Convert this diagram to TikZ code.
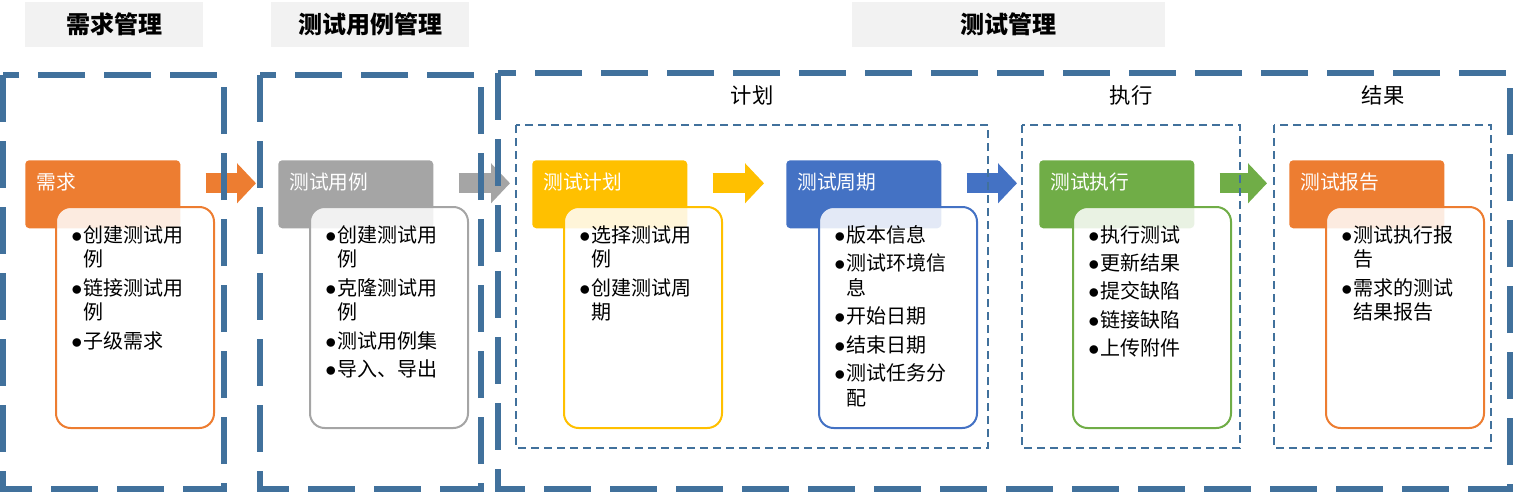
\documentclass[tikz,border=0pt]{standalone}
\usepackage{fontspec}
\setmainfont{Noto Sans CJK SC}
\usetikzlibrary{arrows.meta}
\definecolor{frameblue}{RGB}{65,113,156}
\definecolor{corange}{RGB}{237,125,49}
\definecolor{cgray}{RGB}{165,165,165}
\definecolor{cyellow}{RGB}{255,192,0}
\definecolor{cblue}{RGB}{68,114,196}
\definecolor{cgreen}{RGB}{112,173,71}
\definecolor{titlegray}{RGB}{242,242,242}
\newcommand\bul{\makebox[8.5pt][l]{\hspace*{-0.6pt}\scalebox{1.15}{$\bullet$}}}
\newcommand\ind{\hspace*{8.5pt}}
\begin{document}
\begin{tikzpicture}[x=0.75pt,y=-0.75pt,
  titlebox/.style={fill=titlegray, minimum height=33.75pt, inner sep=0pt, font=\fontsize{18}{20}\selectfont\bfseries},
  sublabel/.style={inner sep=0pt, font=\fontsize{16}{18}\selectfont},
  hdr/.style={fill=#1, rounded corners=3pt, minimum width=116.25pt, minimum height=51pt, inner sep=0pt, anchor=north west},
  bodybox/.style={draw=#1, line width=1.5pt, fill=white, fill opacity=0.85, rounded corners=11pt, minimum width=118.5pt, minimum height=165.75pt, inner sep=0pt, anchor=north west},
  hdrtext/.style={text=white, font=\fontsize{14.8}{17}\selectfont, anchor=base west, inner sep=0pt},
  bodytext/.style={font=\fontsize{15}{18.5}\selectfont, align=left, anchor=north west, inner sep=0pt},
  fat/.style={line width=15pt, draw=#1, -{Triangle[length=14.25pt,width=29.25pt]}},
  bigframe/.style={draw=frameblue, line width=4.5pt, dash pattern=on 35.25pt off 14.25pt},
  thinframe/.style={draw=frameblue, line width=1.5pt, dash pattern=on 6pt off 3.75pt}
]
\useasboundingbox (0,0) rectangle (1523,492);

% titles
\node[titlebox, minimum width=133.5pt] (t1) at (114,24.5) {需求管理};
\node[titlebox, minimum width=148.5pt] (t2) at (370,24.5) {测试用例管理};
\node[titlebox, minimum width=234.75pt] (t3) at (1008.5,24.5) {测试管理};

% sub labels
\node[sublabel] (s1) at (752,95) {计划};
\node[sublabel] (s2) at (1131,95) {执行};
\node[sublabel] (s3) at (1383,95) {结果};

% headers
\node[hdr=corange] (h1) at (25,160) {};
\node[hdr=cgray]   (h2) at (278,160) {};
\node[hdr=cyellow] (h3) at (532,160) {};
\node[hdr=cblue]   (h4) at (786,160) {};
\node[hdr=cgreen]  (h5) at (1039,160) {};
\node[hdr=corange] (h6) at (1289,160) {};

% bodies
\node[bodybox=corange] (b1) at (55,206) {};
\node[bodybox=cgray]   (b2) at (309,206) {};
\node[bodybox=cyellow] (b3) at (563,206) {};
\node[bodybox=cblue]   (b4) at (818,206) {};
\node[bodybox=cgreen]  (b5) at (1072,206) {};
\node[bodybox=corange] (b6) at (1325,206) {};

% header texts
\node[hdrtext] (ht1) at ([shift={(11,29.5)}]h1.north west) {需求};
\node[hdrtext] (ht2) at ([shift={(11,29.5)}]h2.north west) {测试用例};
\node[hdrtext] (ht3) at ([shift={(11,29.5)}]h3.north west) {测试计划};
\node[hdrtext] (ht4) at ([shift={(11,29.5)}]h4.north west) {测试周期};
\node[hdrtext] (ht5) at ([shift={(11,29.5)}]h5.north west) {测试执行};
\node[hdrtext] (ht6) at ([shift={(11,29.5)}]h6.north west) {测试报告};

% body texts
\node[bodytext] (bt1) at ([shift={(17,19)}]b1.north west)
  {\bul 创建测试用\\\ind 例\\[2.8pt]\bul 链接测试用\\\ind 例\\[2.8pt]\bul 子级需求};
\node[bodytext] (bt2) at ([shift={(17,19)}]b2.north west)
  {\bul 创建测试用\\\ind 例\\[2.8pt]\bul 克隆测试用\\\ind 例\\[2.8pt]\bul 测试用例集\\[2.8pt]\bul 导入、导出};
\node[bodytext] (bt3) at ([shift={(17,19)}]b3.north west)
  {\bul 选择测试用\\\ind 例\\[2.8pt]\bul 创建测试周\\\ind 期};
\node[bodytext] (bt4) at ([shift={(17,19)}]b4.north west)
  {\bul 版本信息\\[2.8pt]\bul 测试环境信\\\ind 息\\[2.8pt]\bul 开始日期\\[2.8pt]\bul 结束日期\\[2.8pt]\bul 测试任务分\\\ind 配};
\node[bodytext] (bt5) at ([shift={(17,19)}]b5.north west)
  {\bul 执行测试\\[2.8pt]\bul 更新结果\\[2.8pt]\bul 提交缺陷\\[2.8pt]\bul 链接缺陷\\[2.8pt]\bul 上传附件};
\node[bodytext] (bt6) at ([shift={(17,19)}]b6.north west)
  {\bul 测试执行报\\\ind 告\\[2.8pt]\bul 需求的测试\\\ind 结果报告};

% block arrows
\draw[fat=corange] ([shift={(25,-11)}]h1.east) -- ([shift={(-22,-11)}]h2.west);
\draw[fat=cgray]   ([shift={(25,-11)}]h2.east) -- ([shift={(-22,-11)}]h3.west);
\draw[fat=cyellow] ([shift={(25,-11)}]h3.east) -- ([shift={(-22,-11)}]h4.west);
\draw[fat=cblue]   ([shift={(25,-11)}]h4.east) -- ([shift={(-22,-11)}]h5.west);
\draw[fat=cgreen]  ([shift={(25,-11)}]h5.east) -- ([shift={(-22,-11)}]h6.west);

% frames
\draw[thinframe] (516,125) rectangle (988,448);
\draw[thinframe] (1022,125) rectangle (1240,448);
\draw[thinframe] (1274,125) rectangle (1491,448);
\draw[bigframe] (3,75) rectangle (224,489);
\draw[bigframe] (260,75) rectangle (481,489);
\draw[bigframe] (498,73) rectangle (1510,489);
\end{tikzpicture}
\end{document}
